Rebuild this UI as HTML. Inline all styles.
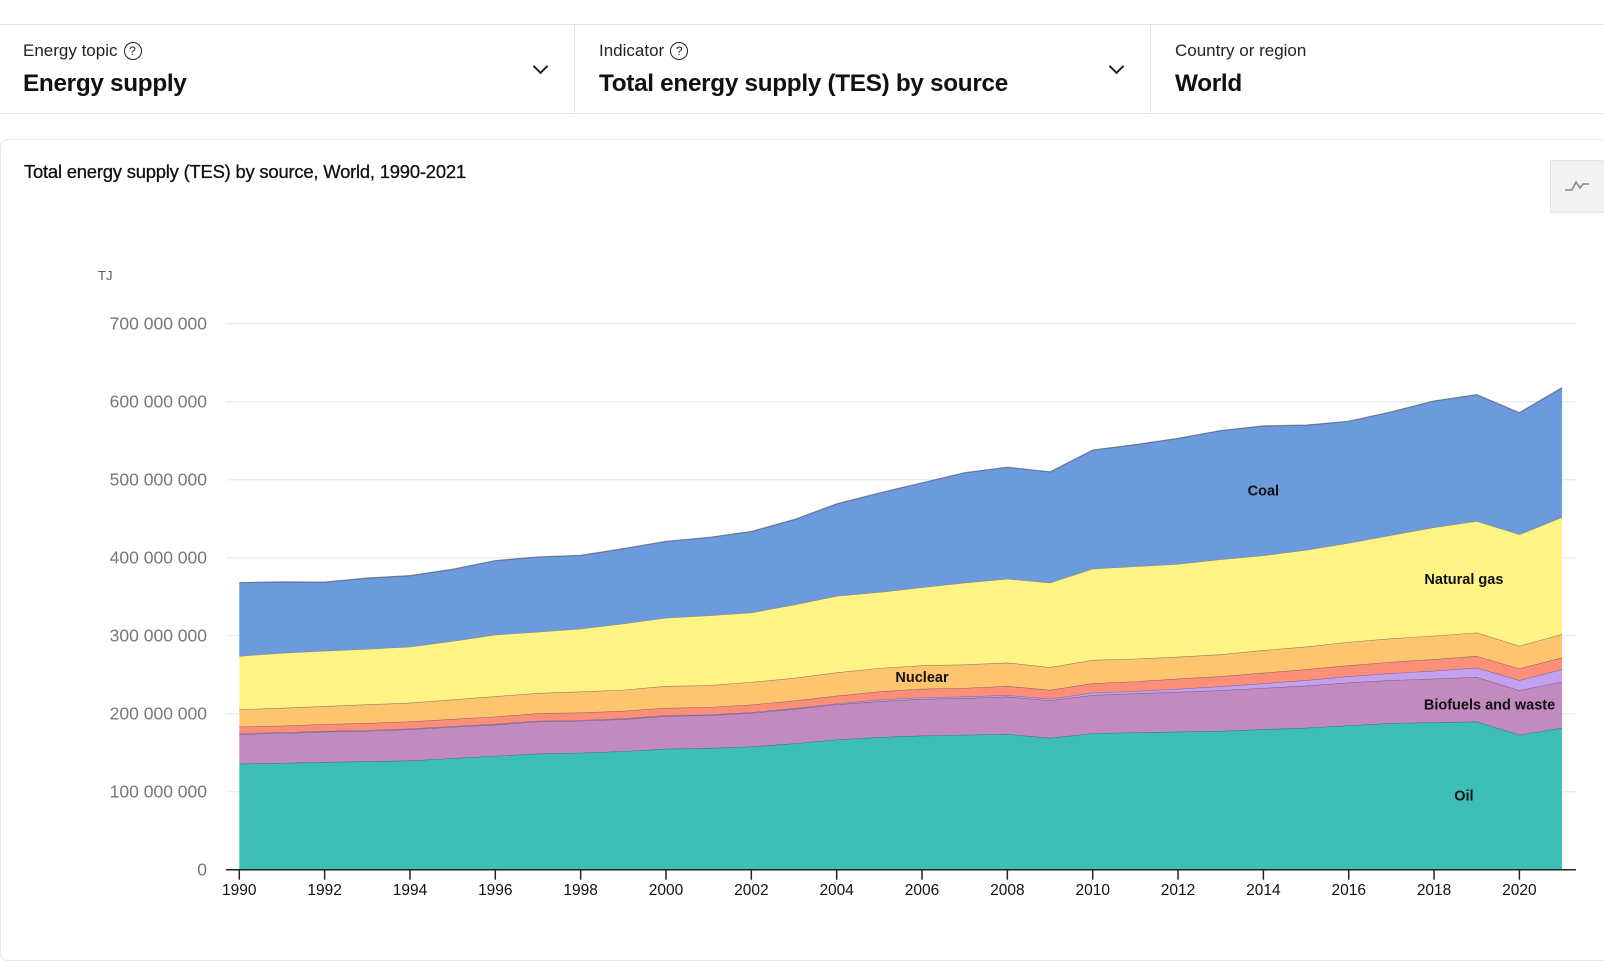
<!DOCTYPE html>
<html><head><meta charset="utf-8">
<style>
body{margin:0;width:1604px;height:944px;background:#fff;font-family:"Liberation Sans",sans-serif;overflow:hidden;position:relative}
.hdr{position:absolute;left:0;top:24px;width:1604px;height:88px;border-top:1px solid #e3e3e3;border-bottom:1px solid #e3e3e3}
.sel{position:absolute;top:0;height:88px}
.lab{position:absolute;top:16px;font-size:17px;color:#222;white-space:nowrap}
.val{position:absolute;top:45px;font-size:24.3px;font-weight:bold;color:#111;white-space:nowrap;letter-spacing:-0.3px}
.q{display:inline-block;width:16px;height:16px;border:1.5px solid #222;border-radius:50%;font-size:12px;text-align:center;line-height:16px;margin-left:6px;vertical-align:1px}
.chev{position:absolute;top:36px;width:9px;height:9px;border-right:2px solid #222;border-bottom:2px solid #222;transform:rotate(45deg)}
.div{position:absolute;top:0;width:1px;height:88px;background:#e3e3e3}
.panel{position:absolute;left:0;top:139px;width:1620px;height:820px;border:1px solid #e6e6e6;border-radius:8px}
</style></head><body>
<div class="hdr">
 <div class="sel" style="left:0;width:574px">
  <div class="lab" style="left:23px">Energy topic<span class="q">?</span></div>
  <div class="val" style="left:23px">Energy supply</div>
  <div class="chev" style="left:535px"></div>
 </div>
 <div class="div" style="left:574px"></div>
 <div class="sel" style="left:575px;width:575px">
  <div class="lab" style="left:24px">Indicator<span class="q">?</span></div>
  <div class="val" style="left:24px">Total energy supply (TES) by source</div>
  <div class="chev" style="left:536px"></div>
 </div>
 <div class="div" style="left:1150px"></div>
 <div class="sel" style="left:1151px;width:453px">
  <div class="lab" style="left:24px">Country or region</div>
  <div class="val" style="left:24px">World</div>
 </div>
</div>
<div class="panel"></div>
<div style="position:absolute;left:24px;top:161px;font-size:18.4px;color:#111;letter-spacing:-0.2px;-webkit-text-stroke:0.3px #111">Total energy supply (TES) by source, World, 1990-2021</div>
<div style="position:absolute;left:1550px;top:160px;width:60px;height:51px;background:#f2f2f2;border:1px solid #e3e3e3">
 <svg width="30" height="16" style="position:absolute;left:13px;top:17px"><polyline points="1,12 8,12 12,4 16,10 19,6 25,6" fill="none" stroke="#888" stroke-width="1.6"/></svg>
</div>
<svg id="chart" width="1604" height="944" style="position:absolute;left:0;top:0"></svg>
<script>
const years=[1990,1991,1992,1993,1994,1995,1996,1997,1998,1999,2000,2001,2002,2003,2004,2005,2006,2007,2008,2009,2010,2011,2012,2013,2014,2015,2016,2017,2018,2019,2020,2021];
const oil=[136,137,138,139,140,143,146,149,150,152,155,156,158,162,167,170,172,173,174,169,175,176,177,178,180,182,185,188,189,190,173,182];
const biofuels=[38,38,39,39,40,40,40,41,41,41,42,42,43,44,45,46,47,47,48,48,49,50,51,52,53,54,55,55,56,57,57,59];
const windSolar=[1,1,1,1,1,1,1,1,1,1,1,1,1,1,1,2,2,2,2,2,3,3,4,5,6,7,8,9,10,12,13,16];
const hydro=[8.5,8.5,8.7,9,9,9.2,9.3,9.5,9.5,9.6,9.5,9.5,9.7,9.8,10,10.5,11,11,11.5,11.5,12,12.5,13,13,13.5,14,14,14.5,15,15,15,15];
const nuclear=[22,23,23,24,24,25,26,26,27,27,28,28,29,29,30,30,30,30,30,29,30,29,28,28,29,29,30,30,30,30,29,30];
const gas=[68.5,70.5,71,71,72,75,79,78.5,80.5,85,87.5,89.5,89,94,98,97.5,100,105,107.5,108.5,117,118.5,119,122,121.5,124,127,132.5,139,143,143,150];
const coal=[94,91,88,91,91,92,95,96,94,96,98,100,104,109,118,127,134,141,143,142,152,156,161,165,166,160,156,158,162,162,156,166];
const yTicks=[0,100,200,300,400,500,600,700];
const yTickLabels=["0","100 000 000","200 000 000","300 000 000","400 000 000","500 000 000","600 000 000","700 000 000"];
const xTicks=[1990,1992,1994,1996,1998,2000,2002,2004,2006,2008,2010,2012,2014,2016,2018,2020];
const series=[
 {name:'oil',vals:oil,color:'#3dbfb5'},
 {name:'biofuels-and-waste',vals:biofuels,color:'#c38ac0'},
 {name:'wind-solar',vals:windSolar,color:'#c4a0ef'},
 {name:'hydro',vals:hydro,color:'#fd8f78'},
 {name:'nuclear',vals:nuclear,color:'#fec56e'},
 {name:'natural-gas',vals:gas,color:'#fef385'},
 {name:'coal',vals:coal,color:'#6b9bdc'}];
const X=y=>239.3+(y-1990)*42.67;
const Y=v=>869.7-v*0.78;
const svg=document.getElementById('chart');
const NS='http://www.w3.org/2000/svg';
function mk(t,a){const e=document.createElementNS(NS,t);for(const k in a)e.setAttribute(k,a[k]);svg.appendChild(e);return e;}
yTicks.forEach((v,i)=>{
 if(v>0){const g=mk('line',{x1:226,x2:1576,y1:Y(v),y2:Y(v),stroke:'#e6e6e6','stroke-width':1});
 
 }
 const t=mk('text',{x:207,y:Y(v)+6,'text-anchor':'end','font-size':'17.5',fill:'#777'});
 t.textContent=yTickLabels[i];
 
 
});
const ut=mk('text',{x:98,y:280,'font-size':'13',fill:'#555'});ut.textContent='TJ';


let base=years.map(()=>0);
series.forEach(s=>{
 const top=base.map((b,i)=>b+s.vals[i]);
 let d='M'+years.map((y,i)=>X(y)+','+Y(top[i])).join('L');
 for(let i=years.length-1;i>=0;i--)d+='L'+X(years[i])+','+Y(base[i]);
 d+='Z';
 const p=mk('path',{d:d,fill:s.color});
 
 
 const l=mk('polyline',{points:years.map((y,i)=>X(y)+','+Y(top[i])).join(' '),fill:'none',stroke:'rgba(60,60,80,0.55)','stroke-width':1.2});
 
 
 base=top;
});
const ax=mk('line',{x1:226,x2:1576,y1:Y(0),y2:Y(0),stroke:'#222','stroke-width':1.5});


xTicks.forEach(y=>{
 const tk=mk('line',{x1:X(y),x2:X(y),y1:Y(0),y2:Y(0)+10,stroke:'#222','stroke-width':1.5});
 
 
 const t=mk('text',{x:X(y),y:895,'text-anchor':'middle','font-size':'15.5',fill:'#111'});
 t.textContent=y;
 
 
});
const labels=[['Coal',2014,'coal',0.5],['Natural gas',2018.7,'natural-gas',0.48],['Nuclear',2006,'nuclear',0.5],['Biofuels and waste',2019.3,'biofuels-and-waste',0.38],['Oil',2018.7,'oil',0.5]];
labels.forEach(([txt,yr,key,f])=>{
 const idx=series.findIndex(s=>s.name===key);
 const i=Math.round(yr)-1990;
 let b=0;for(let k=0;k<idx;k++)b+=series[k].vals[i];
 const v=b+series[idx].vals[i]*f;
 const t=mk('text',{x:X(yr),y:Y(v)+5,'text-anchor':'middle','font-size':'14.5','font-weight':'bold',fill:'#111'});
 t.textContent=txt;
 
 
});
</script>
</body></html>
